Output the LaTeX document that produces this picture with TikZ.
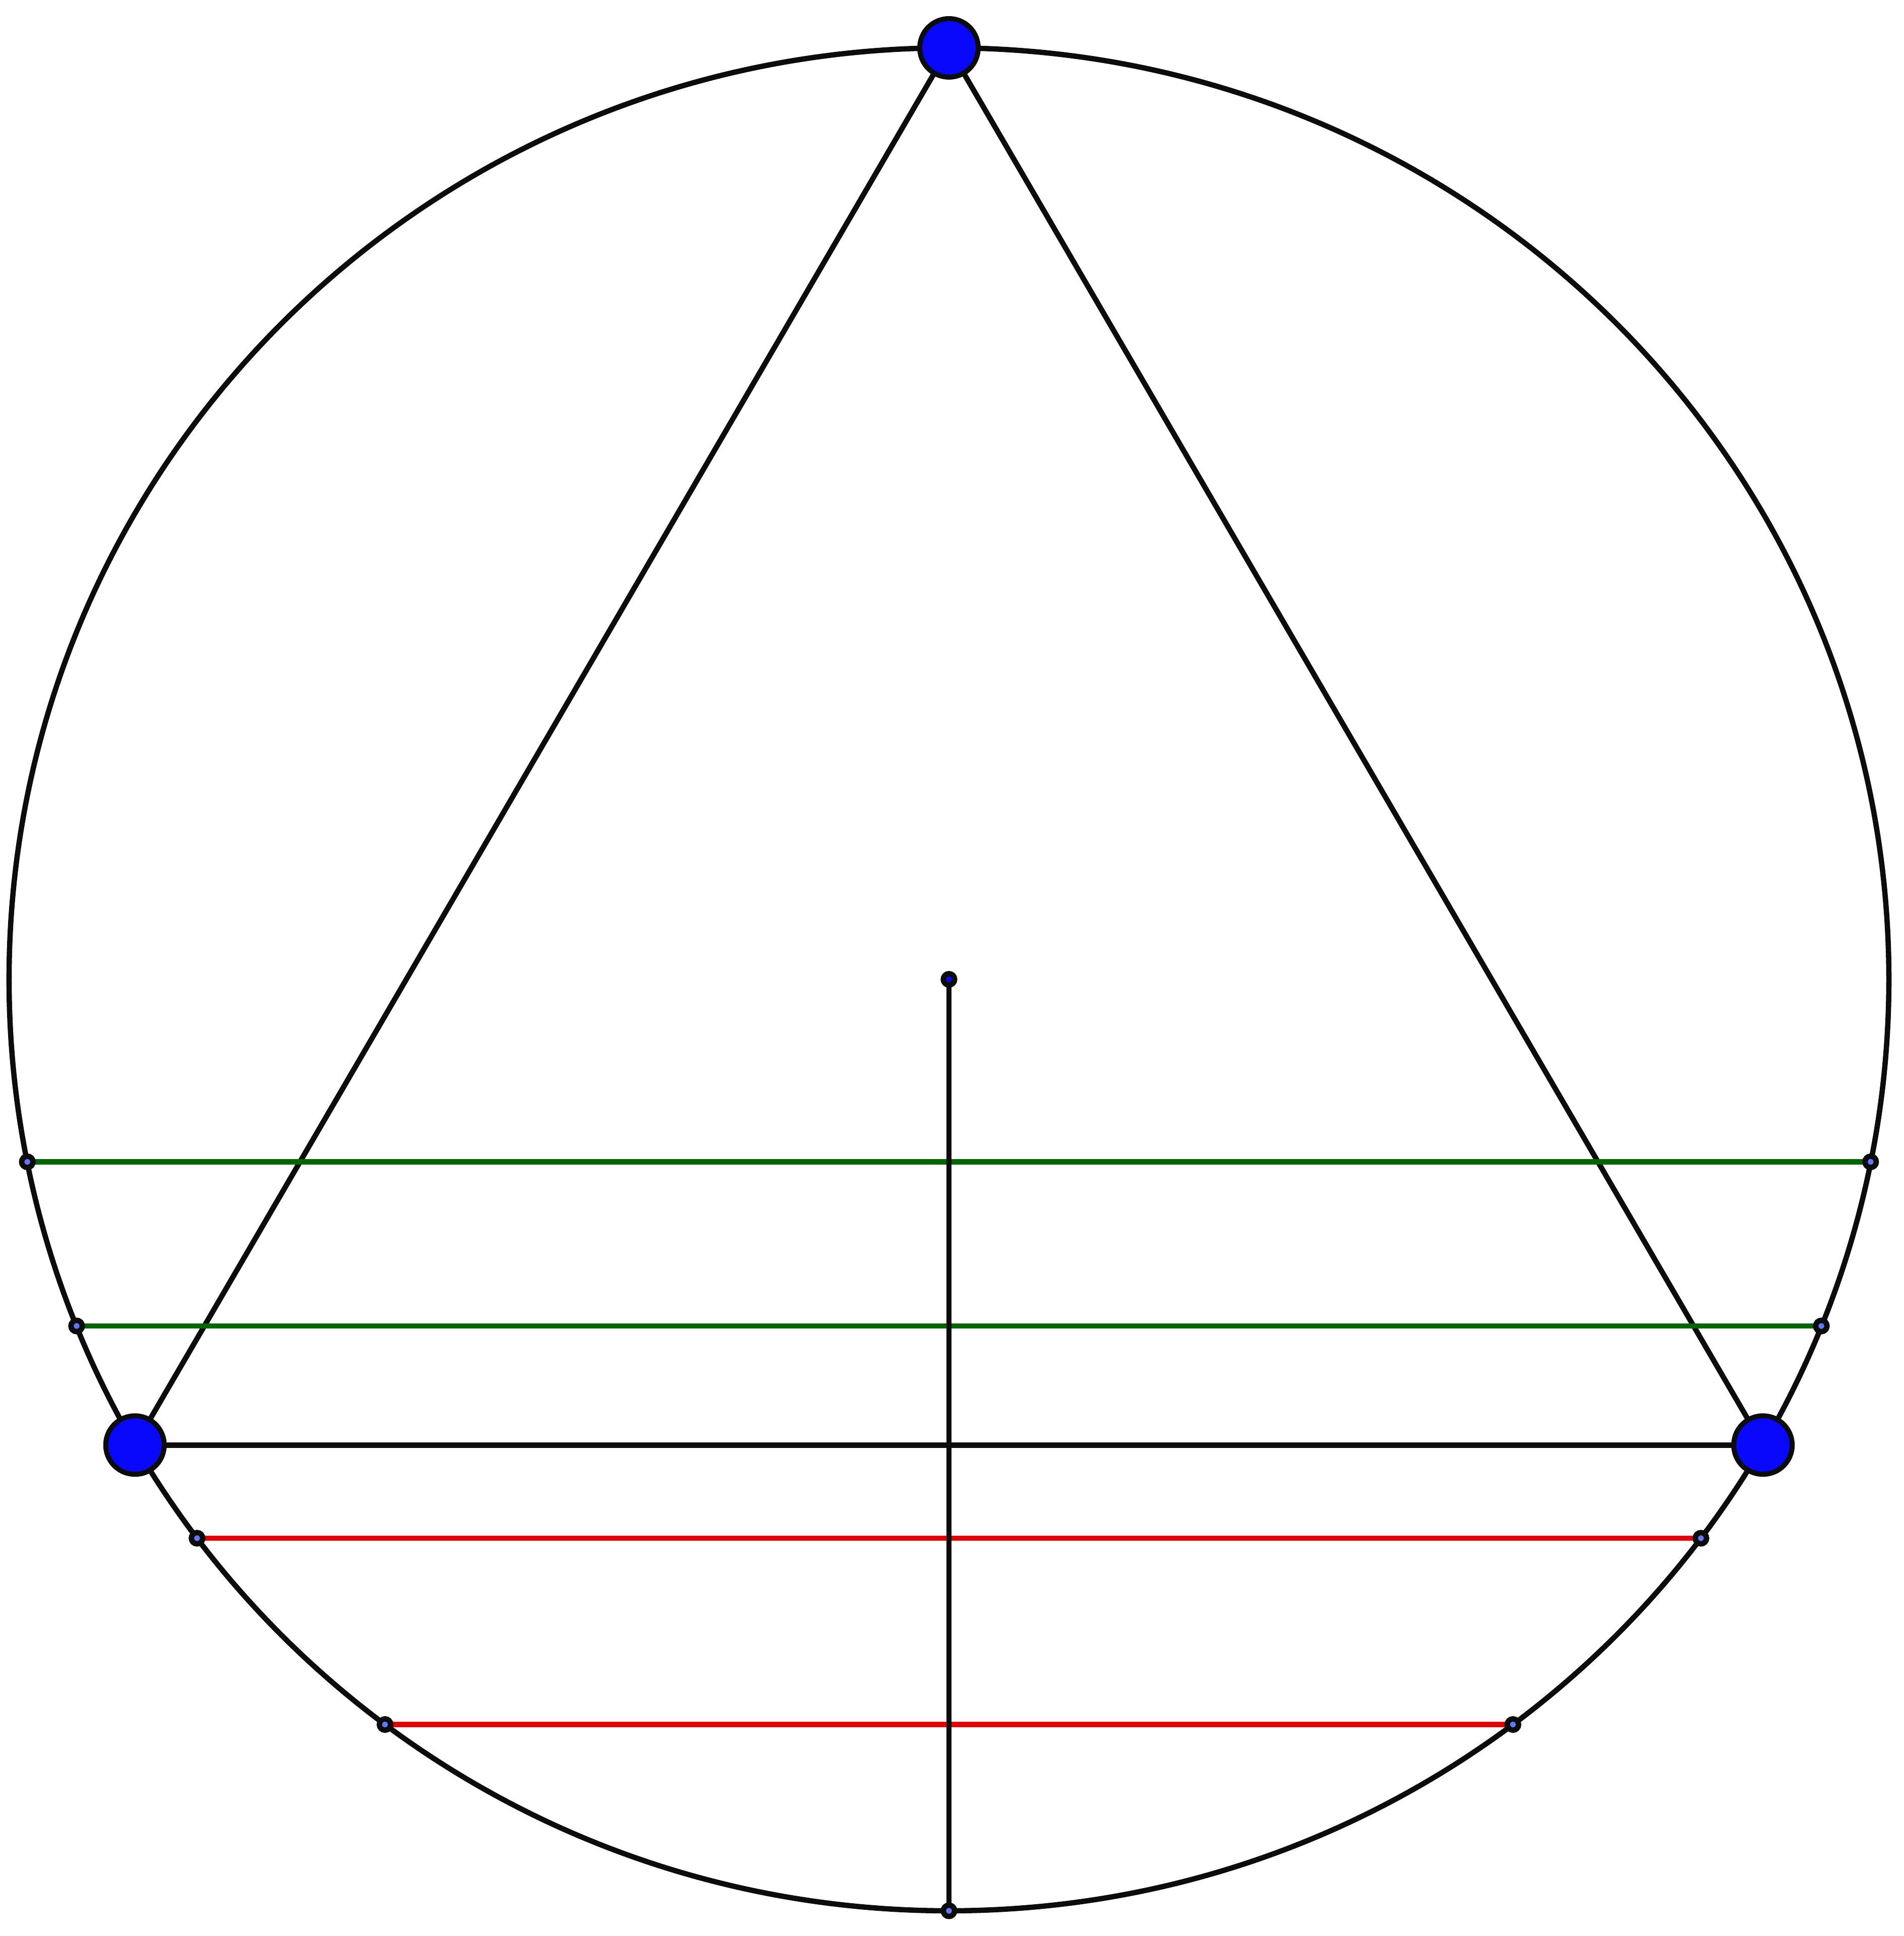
\documentclass[tikz,border=0pt]{standalone}
\usepackage{tikz}
\usepackage{xcolor}
\usetikzlibrary{calc}
\definecolor{edgecolor}{RGB}{12, 12, 12}
\definecolor{vertexcolor}{RGB}{8, 8, 250}
\definecolor{pointcolor}{RGB}{100, 120, 255}
\definecolor{greenchord}{RGB}{0, 100, 0}
\definecolor{redchord}{RGB}{218, 6, 10}

\begin{document}
\begin{tikzpicture}[x=7.456cm, y=7.39cm, line width=1.2pt]
  % Page frame
  \useasboundingbox (-7.528cm,-7.59cm) rectangle (7.576cm,7.77cm);
  \fill[white] (-7.528cm,-7.59cm) rectangle (7.576cm,7.77cm);

  % Circumcircle
  \draw[edgecolor] (0,0) ellipse [x radius=7.456cm, y radius=7.39cm];

  % Define vertices
  \coordinate (O) at (0,0);
  \coordinate (A) at (0,1);
  \coordinate (B) at ({cos(210)},{sin(210)});
  \coordinate (C) at ({cos(330)},{sin(330)});
  \coordinate (S) at (0,-1);

  % Chord end points
  \coordinate (G1L) at ({-cos(11.3)},{-sin(11.3)});
  \coordinate (G1R) at ({cos(11.3)},{-sin(11.3)});
  \coordinate (G2L) at ({-cos(21.85)},{-sin(21.85)});
  \coordinate (G2R) at ({cos(21.85)},{-sin(21.85)});
  \coordinate (R1L) at (-0.8,-0.6);
  \coordinate (R1R) at (0.8,-0.6);
  \coordinate (R2L) at (-0.6,-0.8);
  \coordinate (R2R) at (0.6,-0.8);

  % Triangle
  \draw[edgecolor] (A) -- (B);
  \draw[edgecolor] (A) -- (C);
  \draw[edgecolor] (B) -- (C);

  % Chords
  \draw[greenchord] (G1L) -- (G1R);
  \draw[greenchord] (G2L) -- (G2R);
  \draw[redchord] (R1L) -- (R1R);
  \draw[redchord] (R2L) -- (R2R);

  % Radius down
  \draw[edgecolor] (O) -- (S);

  % Small points
  \filldraw[fill=vertexcolor, draw=edgecolor, line width=1.22pt] (O) circle (0.045cm);
  \filldraw[fill=pointcolor, draw=edgecolor, line width=1.22pt] (S) circle (0.045cm);
  \filldraw[fill=pointcolor, draw=edgecolor, line width=1.22pt] (G1L) circle (0.045cm);
  \filldraw[fill=pointcolor, draw=edgecolor, line width=1.22pt] (G1R) circle (0.045cm);
  \filldraw[fill=pointcolor, draw=edgecolor, line width=1.22pt] (G2L) circle (0.045cm);
  \filldraw[fill=pointcolor, draw=edgecolor, line width=1.22pt] (G2R) circle (0.045cm);
  \filldraw[fill=pointcolor, draw=edgecolor, line width=1.22pt] (R1L) circle (0.045cm);
  \filldraw[fill=pointcolor, draw=edgecolor, line width=1.22pt] (R1R) circle (0.045cm);
  \filldraw[fill=pointcolor, draw=edgecolor, line width=1.22pt] (R2L) circle (0.045cm);
  \filldraw[fill=pointcolor, draw=edgecolor, line width=1.22pt] (R2R) circle (0.045cm);

  % Vertices
  \filldraw[fill=vertexcolor, draw=edgecolor, line width=1.13pt] (A) circle (0.232cm);
  \filldraw[fill=vertexcolor, draw=edgecolor, line width=1.13pt] (B) circle (0.232cm);
  \filldraw[fill=vertexcolor, draw=edgecolor, line width=1.13pt] (C) circle (0.232cm);
\end{tikzpicture}
\end{document}
